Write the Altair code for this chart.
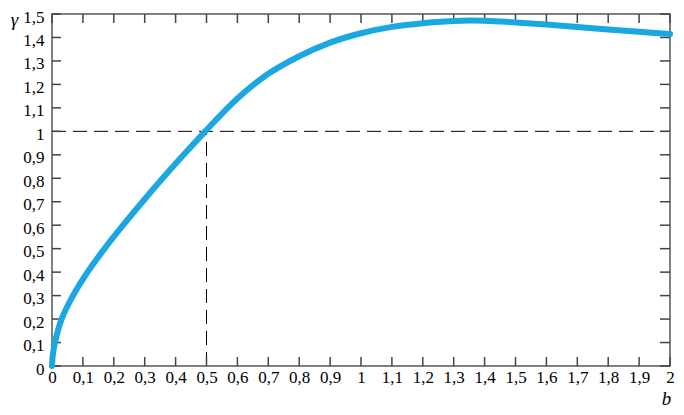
import altair as alt
import pandas as pd

# curve
b_vals = [0, 0.002, 0.0096, 0.031, 0.068, 0.115, 0.17, 0.23, 0.293, 0.358, 0.426, 0.496,
          0.6, 0.7, 0.8, 0.9, 1.0, 1.1, 1.2, 1.3, 1.35, 1.4, 1.5, 1.6, 1.7, 1.8, 1.9, 2.0]
g_vals = [0, 0.04, 0.1, 0.2, 0.3, 0.4, 0.5, 0.6, 0.7, 0.8, 0.9, 1.0,
          1.14, 1.245, 1.32, 1.378, 1.418, 1.445, 1.461, 1.470, 1.472, 1.471, 1.464, 1.455,
          1.445, 1.434, 1.424, 1.415]

x_ticks = [round(i * 0.1, 1) for i in range(21)]
y_ticks = [round(i * 0.1, 1) for i in range(16)]

ref_x = [0.0, 2.0]
ref_y = [1.0, 1.0]
vref_x = [0.5, 0.5]
vref_y = [0.0, 1.0]

W, H = 618, 352
FONT = "Liberation Serif"
TICK = "#444444"
label_expr = "replace(format(datum.value, '~g'), '.', ',')"

xs = alt.Scale(domain=[0, 2], nice=False, zero=False)
ys = alt.Scale(domain=[0, 1.5], nice=False, zero=False)

curve = pd.DataFrame({"b": b_vals, "g": g_vals, "i": list(range(len(b_vals)))})
xt = pd.DataFrame({"b": x_ticks})
yt = pd.DataFrame({"g": y_ticks})
hdf = pd.DataFrame({"b": ref_x, "g": ref_y})
vdf = pd.DataFrame({"b": vref_x, "g": vref_y})

common = dict(ticks=False, domain=False, grid=False, labelFlush=False,
              labelFont=FONT, labelFontSize=17, labelColor="black",
              titleFont=FONT, titleFontSize=19, titleFontStyle="italic",
              titleFontWeight="normal", titleColor="black", titleAlign="center",
              titleBaseline="middle")

x_axis = alt.Axis(values=x_ticks, labelExpr=label_expr, labelPadding=3,
                  title="b", titleX=W - 4, titleY=32, **common)
y_axis = alt.Axis(values=y_ticks, labelExpr=label_expr, labelPadding=8, labelOffset=3,
                  title="γ", titleAngle=0, titleX=-38, titleY=5, **common)

X = alt.X("b:Q", scale=xs, axis=x_axis)
Y = alt.Y("g:Q", scale=ys, axis=y_axis)

hline = alt.Chart(hdf).mark_line(color="black", strokeWidth=1, strokeDash=[14, 7]).encode(x=X, y=Y)
vline = alt.Chart(vdf).mark_line(color="black", strokeWidth=1, strokeDash=[14, 7]).encode(
    x=X, y=Y, order="g:Q")

line = alt.Chart(curve).mark_line(color="#1aa7e2", strokeWidth=6, interpolate="catmull-rom",
                                  strokeCap="round").encode(x=X, y=Y, order="i:Q")

tb = alt.Chart(xt).mark_rule(color=TICK, strokeWidth=1.5).encode(
    x=X, y=alt.value(H), y2=alt.value(H - 9))
tt = alt.Chart(xt).mark_rule(color=TICK, strokeWidth=1.5).encode(
    x=X, y=alt.value(0), y2=alt.value(9))
tl = alt.Chart(yt).mark_rule(color=TICK, strokeWidth=1.5).encode(
    y=Y, x=alt.value(0), x2=alt.value(9))
tr = alt.Chart(yt).mark_rule(color=TICK, strokeWidth=1.5).encode(
    y=Y, x=alt.value(W), x2=alt.value(W - 10))

chart = alt.layer(hline, vline, tb, tt, tl, tr, line).properties(
    width=W, height=H, background="white",
    autosize=alt.AutoSizeParams(type="none"),
    padding={"left": 44, "top": 6, "right": 6, "bottom": 41},
).configure_view(
    stroke="#555555", strokeWidth=1.5
).configure_axis(**common)

chart.save("out.html", embed_options={"renderer": "svg", "actions": False})
